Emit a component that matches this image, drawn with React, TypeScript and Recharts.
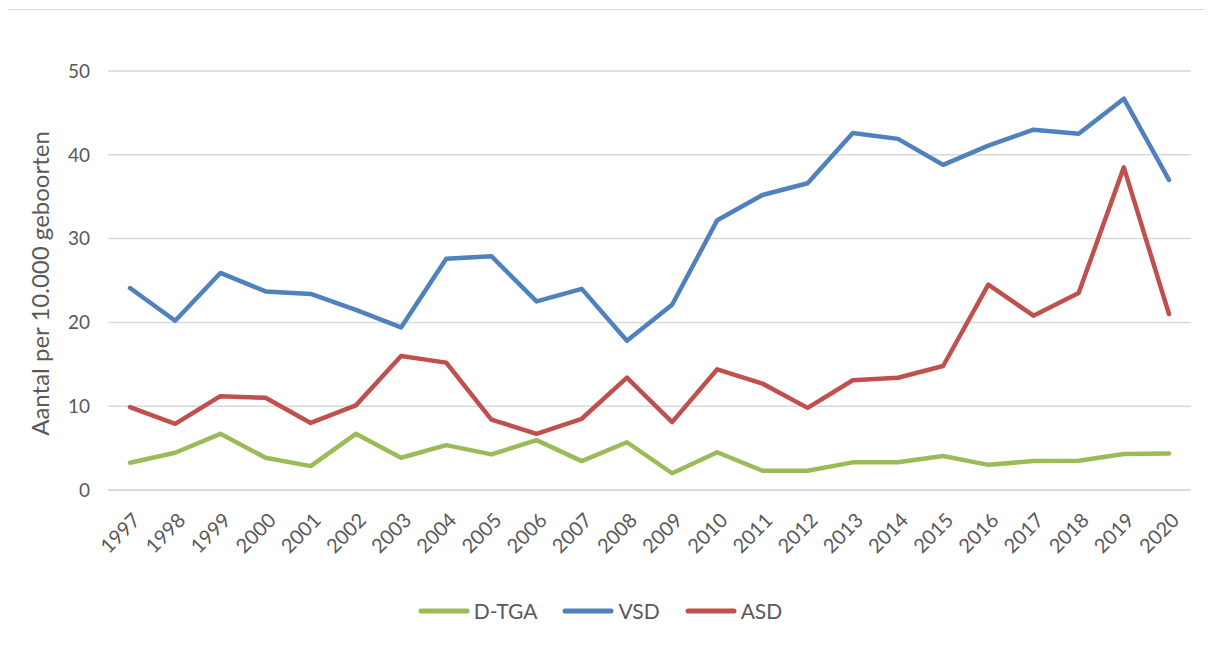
import { LineChart, Line, XAxis, YAxis, CartesianGrid, Legend } from "recharts";

const years = [
  "1997", "1998", "1999", "2000", "2001", "2002", "2003", "2004", "2005", "2006", "2007", "2008",
  "2009", "2010", "2011", "2012", "2013", "2014", "2015", "2016", "2017", "2018", "2019", "2020"
];

const dtga = [3.25, 4.45, 6.7, 3.85, 2.85, 6.7, 3.85, 5.35, 4.25, 5.95, 3.45, 5.7, 2.0, 4.5, 2.3, 2.3, 3.3, 3.3, 4.05, 3.0, 3.45, 3.5, 4.3, 4.35];
const vsd = [24.1, 20.2, 25.9, 23.7, 23.4, 21.5, 19.4, 27.6, 27.9, 22.5, 24.0, 17.8, 22.1, 32.2, 35.2, 36.6, 42.6, 41.9, 38.8, 41.1, 43.0, 42.5, 46.7, 37.0];
const asd = [9.9, 7.9, 11.2, 11.0, 8.0, 10.1, 16.0, 15.2, 8.4, 6.7, 8.5, 13.4, 8.1, 14.4, 12.7, 9.8, 13.1, 13.4, 14.8, 24.5, 20.8, 23.5, 38.5, 21.0];

const yTicks = [0, 10, 20, 30, 40, 50];

const series = [
  { key: "dtga", name: "D-TGA", color: "#9bbb59" },
  { key: "vsd", name: "VSD", color: "#4f81bd" },
  { key: "asd", name: "ASD", color: "#c0504d" }
];

const data = years.map((y, i) => ({ year: y, dtga: dtga[i], vsd: vsd[i], asd: asd[i] }));

const font = "Lato, 'Open Sans', sans-serif";
const textColor = "#595959";

function YearTick(props: any) {
  const { x, y, payload } = props;
  return (
    <g transform={`translate(${x + 8},${y + 20})`}>
      <text transform="rotate(-45)" textAnchor="end" dominantBaseline="middle" fontSize={20} fill={textColor} fontFamily={font}>
        {payload.value}
      </text>
    </g>
  );
}

function LegendContent() {
  // fixed order, as in the original legend
  return (
    <div style={{ display: "flex", justifyContent: "center", gap: 24, fontFamily: font, fontSize: 21, color: textColor }}>
      {series.map(s => (
        <div key={s.key} style={{ display: "flex", alignItems: "center" }}>
          <svg width={54} height={10} style={{ marginRight: 3 }}>
            <line x1={4} y1={5} x2={50} y2={5} stroke={s.color} strokeWidth={5} strokeLinecap="round" />
          </svg>
          <span>{s.name}</span>
        </div>
      ))}
    </div>
  );
}

export default function App() {
  return (
    <div style={{ width: 1200, height: 640, border: "1px solid #d9d9d9", background: "#fff", marginTop: 1, marginLeft: -1 }}>
      <LineChart width={1200} height={640} data={data} margin={{ top: 61, right: 17, left: 0, bottom: 12 }}>
        <CartesianGrid vertical={false} stroke="#d9d9d9" strokeWidth={1.5} />
        <XAxis
          dataKey="year"
          tick={<YearTick />}
          tickLine={false}
          axisLine={{ stroke: "#d9d9d9", strokeWidth: 1.5 }}
          interval={0}
          height={108}
          padding={{ left: 22, right: 22 }}
        />
        <YAxis
          domain={[0, 50]}
          ticks={yTicks}
          width={100}
          axisLine={false}
          tickLine={false}
          tickMargin={12}
          tick={{ fontSize: 19, fill: textColor, fontFamily: font }}
          label={{
            value: "Aantal per 10.000 geboorten",
            angle: -90,
            position: "center",
            dx: -18,
            dy: 3,
            style: { fontSize: 24, fill: textColor, fontFamily: font }
          }}
        />
        <Legend verticalAlign="bottom" height={40} content={<LegendContent />} />
        {series.map(s => (
          <Line
            key={s.key}
            type="linear"
            dataKey={s.key}
            name={s.name}
            stroke={s.color}
            strokeWidth={4.5}
            dot={false}
            strokeLinecap="round"
            strokeLinejoin="round"
            isAnimationActive={false}
          />
        ))}
      </LineChart>
    </div>
  );
}
